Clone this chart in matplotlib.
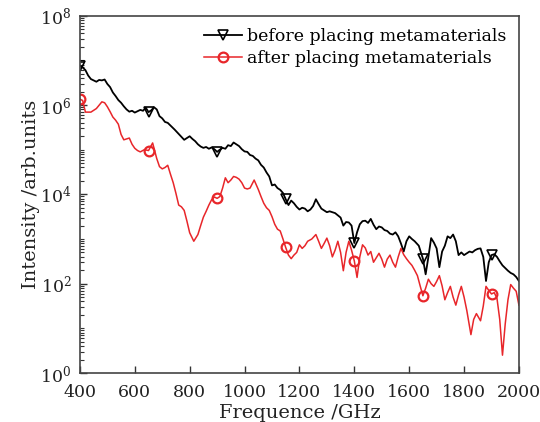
import numpy as np
import matplotlib
matplotlib.use("Agg")
import matplotlib.pyplot as plt
from matplotlib.ticker import LogLocator, NullFormatter

# black curve: before placing metamaterials (log10 intensity)
freq_before = [400, 410, 420, 430, 440, 450, 460, 470, 480, 490, 500, 510, 520, 530, 540, 550, 560, 570, 580,
               590, 600, 610, 620, 630, 640, 650, 660, 670, 680, 690, 700, 710, 720, 730, 745, 760, 770, 780,
               790, 800, 810, 820, 830, 840, 850, 860, 870, 880, 890, 900, 910, 920, 930, 940, 950, 960, 970,
               980, 990, 1000, 1010, 1020, 1030, 1040, 1050, 1060, 1070, 1080, 1090, 1100, 1110, 1120, 1130,
               1140, 1150, 1160, 1170, 1180, 1190, 1200, 1210, 1220, 1230, 1240, 1250, 1260, 1270, 1280, 1290,
               1300, 1310, 1320, 1330, 1340, 1350, 1360, 1370, 1380, 1390, 1400, 1410, 1420, 1430, 1440, 1450,
               1460, 1470, 1480, 1490, 1500, 1510, 1520, 1530, 1540, 1550, 1560, 1570, 1580, 1590, 1600, 1610,
               1620, 1635, 1650, 1660, 1670, 1680, 1690, 1700, 1710, 1720, 1730, 1740, 1750, 1760, 1770, 1780,
               1790, 1800, 1810, 1820, 1830, 1840, 1850, 1860, 1870, 1880, 1890, 1900, 1910, 1920, 1930, 1940,
               1950, 1960, 1970, 1980, 1990, 2000]
log_before = [6.88, 6.84, 6.78, 6.66, 6.58, 6.55, 6.52, 6.56, 6.55, 6.57, 6.47, 6.40, 6.28, 6.20, 6.11, 6.05,
              5.97, 5.90, 5.85, 5.87, 5.83, 5.86, 5.89, 5.87, 5.94, 5.84, 5.88, 5.95, 5.90, 5.75, 5.70, 5.62,
              5.60, 5.54, 5.45, 5.35, 5.28, 5.22, 5.26, 5.30, 5.24, 5.19, 5.12, 5.07, 5.04, 5.06, 5.02, 5.05,
              5.01, 4.95, 5.00, 5.04, 5.02, 5.10, 5.08, 5.16, 5.12, 5.08, 5.01, 4.96, 4.95, 4.88, 4.86, 4.80,
              4.76, 4.66, 4.60, 4.49, 4.40, 4.20, 4.22, 4.14, 4.10, 4.03, 3.89, 3.76, 3.86, 3.80, 3.72, 3.66,
              3.70, 3.68, 3.62, 3.66, 3.74, 3.89, 3.78, 3.68, 3.64, 3.60, 3.62, 3.60, 3.58, 3.53, 3.48, 3.30,
              3.38, 3.37, 3.30, 2.91, 3.15, 3.33, 3.40, 3.41, 3.36, 3.45, 3.32, 3.22, 3.28, 3.26, 3.20, 3.18,
              3.12, 3.10, 3.15, 3.06, 2.90, 2.72, 2.95, 3.06, 3.00, 2.95, 2.85, 2.56, 2.21, 2.60, 3.02, 2.92,
              2.79, 2.37, 2.72, 2.85, 3.06, 3.02, 3.10, 2.95, 2.64, 2.70, 2.64, 2.68, 2.72, 2.70, 2.75, 2.78,
              2.79, 2.60, 2.06, 2.48, 2.64, 2.66, 2.60, 2.50, 2.41, 2.35, 2.29, 2.24, 2.21, 2.15, 2.06]

# red curve: after placing metamaterials
freq_after = [400, 410, 420, 440, 460, 480, 490, 500, 510, 520, 530, 540, 550, 560, 570, 580, 590, 600, 610,
              620, 635, 650, 665, 680, 690, 700, 710, 720, 730, 740, 750, 760, 770, 780, 790, 800, 815, 830,
              840, 850, 860, 870, 880, 890, 900, 910, 920, 930, 940, 950, 960, 970, 980, 990, 1000, 1010, 1020,
              1035, 1050, 1060, 1070, 1080, 1090, 1100, 1110, 1120, 1130, 1140, 1150, 1160, 1170, 1180, 1190,
              1200, 1210, 1220, 1230, 1245, 1260, 1270, 1280, 1290, 1300, 1310, 1320, 1330, 1340, 1350, 1360,
              1370, 1380, 1390, 1400, 1410, 1420, 1430, 1440, 1450, 1460, 1470, 1480, 1490, 1500, 1510, 1520,
              1530, 1540, 1550, 1560, 1570, 1580, 1590, 1600, 1610, 1620, 1630, 1640, 1650, 1660, 1670, 1680,
              1690, 1700, 1710, 1720, 1730, 1740, 1750, 1760, 1770, 1780, 1790, 1800, 1810, 1825, 1835, 1845,
              1860, 1870, 1880, 1890, 1900, 1910, 1920, 1930, 1940, 1950, 1960, 1970, 1980, 1990, 2000]
log_after = [6.13, 6.10, 5.84, 5.84, 5.92, 6.07, 6.05, 5.96, 5.85, 5.73, 5.66, 5.57, 5.34, 5.22, 5.24, 5.26,
             5.12, 5.03, 4.98, 4.95, 5.00, 4.98, 5.15, 4.80, 4.62, 4.57, 4.60, 4.65, 4.45, 4.26, 4.02, 3.76,
             3.72, 3.64, 3.40, 3.14, 2.95, 3.10, 3.30, 3.49, 3.62, 3.76, 3.88, 3.94, 3.91, 3.95, 4.14, 4.37,
             4.26, 4.32, 4.40, 4.38, 4.34, 4.26, 4.14, 4.12, 4.14, 4.32, 4.11, 3.95, 3.80, 3.70, 3.64, 3.50,
             3.33, 3.22, 3.18, 3.00, 2.81, 2.64, 2.56, 2.64, 2.70, 2.87, 2.79, 2.85, 2.95, 3.00, 3.10, 2.95,
             2.79, 2.90, 3.02, 2.85, 2.60, 2.75, 2.95, 2.70, 2.29, 2.70, 2.95, 2.75, 2.51, 2.14, 2.60, 2.87,
             2.80, 2.64, 2.72, 2.48, 2.58, 2.68, 2.55, 2.37, 2.55, 2.64, 2.48, 2.37, 2.60, 2.79, 2.65, 2.56,
             2.48, 2.41, 2.30, 2.18, 1.95, 1.73, 1.90, 2.10, 2.00, 1.94, 2.05, 2.18, 1.95, 1.64, 1.80, 1.94,
             1.70, 1.52, 1.75, 1.94, 1.70, 1.40, 0.86, 1.20, 1.33, 1.17, 1.50, 1.94, 1.85, 1.77, 1.80, 1.67,
             1.20, 0.40, 1.10, 1.64, 1.98, 1.90, 1.83, 1.52]

marker_freq = [400, 650, 900, 1150, 1400, 1650, 1900]

plt.rcParams["font.family"] = "DejaVu Serif"
plt.rcParams["mathtext.fontset"] = "dejavuserif"

fig = plt.figure(figsize=(5.4, 4.22), dpi=100)
ax = fig.add_axes([0.148, 0.116, 0.813, 0.847])

fb = np.array(freq_before)
yb = 10 ** np.array(log_before)
fa = np.array(freq_after)
ya = 10 ** np.array(log_after)
mb = [int(np.argmin(abs(fb - f))) for f in marker_freq]
ma = [int(np.argmin(abs(fa - f))) for f in marker_freq]

ax.plot(fb, yb, color="black", lw=1.3, marker="v", markevery=mb, markersize=7,
        markerfacecolor="none", markeredgewidth=1.2, label="before placing metamaterials")
ax.plot(fa, ya, color="#e8262a", lw=1.1, marker="o", markevery=ma, markersize=7,
        markerfacecolor="none", markeredgewidth=1.6, label="after placing metamaterials")

ax.set_yscale("log")
ax.set_xlim(400, 2000)
ax.set_ylim(1, 1e8)
ax.set_xticks(range(400, 2001, 200))
ax.set_yticks([1, 1e2, 1e4, 1e6, 1e8])
ax.yaxis.set_minor_locator(LogLocator(base=10, subs=np.arange(1, 10), numticks=20))
ax.yaxis.set_minor_formatter(NullFormatter())
ax.tick_params(direction="in", labelsize=12.5, length=5, width=1, colors="#333333", labelcolor="#222222")
ax.tick_params(axis="x", pad=8)
ax.tick_params(axis="y", pad=6)
ax.tick_params(which="minor", direction="in", length=3, width=0.8, colors="#333333")
for s in ax.spines.values():
    s.set_color("#444444")
    s.set_linewidth(1.2)

ax.set_xlabel("Frequence /GHz", fontsize=14, color="#222222", labelpad=2)
ax.set_ylabel("Intensity /arb.units", fontsize=14, color="#222222", labelpad=0)

ax.legend(loc="upper right", frameon=False, fontsize=12.5, handlelength=2.2,
          handletextpad=0.3, labelspacing=0.3, borderaxespad=0.3)

fig.savefig("out.png", dpi=100)
